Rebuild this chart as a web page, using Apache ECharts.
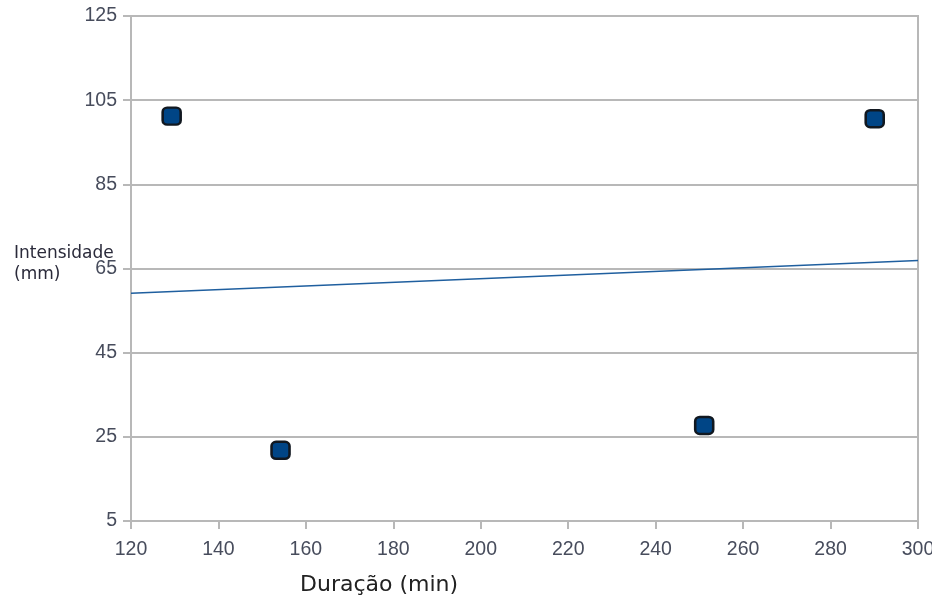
<!DOCTYPE html>
<html><head><meta charset="utf-8">
<script src="https://cdn.jsdelivr.net/npm/echarts@6/dist/echarts.min.js"></script>
<style>html,body{margin:0;padding:0;background:#fff}#c{width:932px;height:604px}</style>
</head><body><div id="c"></div>
<script>
const durations = [129.3, 154.2, 251.1, 290.1];
const intensities = [101.2, 21.8, 27.7, 100.6];
const trendX = [120, 300];
const trendY = [59.1, 66.9];
const xTicks = [120, 140, 160, 180, 200, 220, 240, 260, 280, 300];
const yTicks = [5, 25, 45, 65, 85, 105, 125];
const xTitle = 'Duração (min)';
const yTitleLines = ['Intensidade', '(mm)'];

const chart = echarts.init(document.getElementById('c'), null, {renderer: 'canvas'});
const points = durations.map((d, i) => [d, intensities[i]]);
const trend = trendX.map((x, i) => [x, trendY[i]]);
const gridColor = '#b8b8b8';
chart.setOption({
  animation: false,
  grid: {left: 131, right: 14, top: 16, bottom: 83, show: true, borderColor: gridColor, borderWidth: 2,
         containLabel: false, outerBoundsMode: 'none'},
  xAxis: {
    type: 'value', min: xTicks[0], max: xTicks[xTicks.length - 1], interval: 20,
    axisLine: {show: true, lineStyle: {color: gridColor, width: 2}},
    axisTick: {show: true, length: 8, lineStyle: {color: gridColor, width: 2}},
    splitLine: {show: false},
    axisLabel: {color: '#474c5c', fontSize: 19.5, fontFamily: 'Liberation Sans', margin: 19, showMaxLabel: true, hideOverlap: false}
  },
  yAxis: {
    type: 'value', min: yTicks[0], max: yTicks[yTicks.length - 1], interval: 20,
    axisLine: {show: true, lineStyle: {color: gridColor, width: 2}},
    axisTick: {show: true, length: 8, lineStyle: {color: gridColor, width: 2}},
    splitLine: {show: true, lineStyle: {color: gridColor, width: 2}},
    axisLabel: {color: '#474c5c', fontSize: 19.5, fontFamily: 'Liberation Sans', margin: 14}
  },
  graphic: [
    {type: 'text', left: 300, top: 574, style: {text: xTitle, fill: '#222', font: '22px "DejaVu Sans"'}},
    {type: 'text', left: 14, top: 243, style: {text: yTitleLines.join('\n'), fill: '#2a2a3a', font: '17px "DejaVu Sans"', lineHeight: 21}}
  ],
  series: [
    {type: 'line', data: trend, symbol: 'none', lineStyle: {color: '#1f5f9f', width: 1.5}, z: 2},
    {type: 'scatter', data: points, symbol: 'roundRect', symbolSize: [18, 17],
     itemStyle: {color: '#004586', borderColor: '#111820', borderWidth: 2.5, opacity: 1}, z: 3}
  ]
});
</script></body></html>
